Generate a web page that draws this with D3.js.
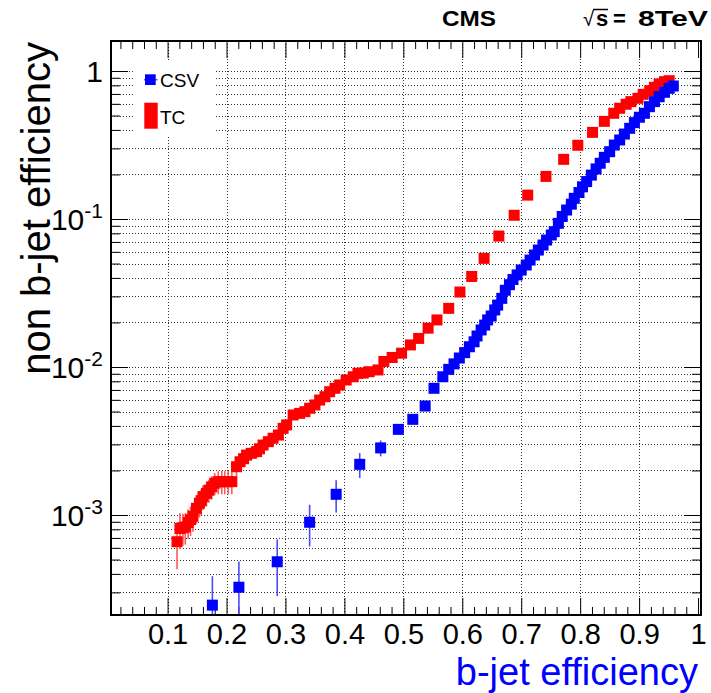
<!DOCTYPE html>
<html>
<head>
<meta charset="utf-8">
<script src="https://cdn.jsdelivr.net/npm/d3@7"></script>
<style>
body { margin: 0; background: #fff; }
svg { display: block; }
text { font-family: "Liberation Sans", Arial, Helvetica, sans-serif; }
</style>
</head>
<body>
<script>
// CSV tagger: b-jet efficiency, mistag rate, stat. error
var csvEff = [0.176, 0.221, 0.286, 0.341, 0.386, 0.426, 0.4615, 0.4915, 0.516, 0.537, 0.552, 0.567,
    0.577, 0.586, 0.595, 0.604, 0.612, 0.620, 0.625, 0.632, 0.638, 0.643, 0.649, 0.655, 0.660, 0.667,
    0.673, 0.680, 0.686, 0.693, 0.700, 0.7085, 0.715, 0.7225, 0.729, 0.737, 0.743, 0.751, 0.756, 0.763,
    0.7695, 0.777, 0.785, 0.790, 0.798, 0.804, 0.811, 0.819, 0.827, 0.834, 0.841, 0.850, 0.858, 0.867,
    0.875, 0.884, 0.892, 0.9005, 0.909, 0.9175, 0.926, 0.934, 0.943, 0.951, 0.958];
var csvMis = [2.46e-4, 3.25e-4, 4.83e-4, 8.93e-4, 1.38e-3, 2.20e-3, 2.84e-3, 3.79e-3, 4.43e-3, 5.45e-3, 7.18e-3, 8.59e-3,
    9.64e-3, 1.05e-2, 1.15e-2, 1.25e-2, 1.37e-2, 1.48e-2, 1.62e-2, 1.78e-2, 1.92e-2, 2.08e-2, 2.21e-2, 2.43e-2, 2.62e-2, 2.91e-2,
    3.30e-2, 3.60e-2, 3.90e-2, 4.19e-2, 4.52e-2, 4.89e-2, 5.28e-2, 5.71e-2, 6.17e-2, 6.67e-2, 7.21e-2, 7.80e-2, 8.21e-2, 9.35e-2,
    0.104, 0.115, 0.126, 0.138, 0.151, 0.165, 0.179, 0.198, 0.218, 0.238, 0.261, 0.285, 0.316, 0.342,
    0.375, 0.410, 0.448, 0.487, 0.518, 0.574, 0.621, 0.670, 0.718, 0.764, 0.792];
var csvErr = [1.4e-4, 1.6e-4, 2.0e-4, 2.8e-4, 3.4e-4, 4.2e-4, 3.5e-4, 2.0e-4, 2.0e-4, 2.0e-4, 2.0e-4, 1.5e-4];

// TC tagger
var tcEff = [0.116, 0.121, 0.126, 0.130, 0.135, 0.139, 0.143, 0.149, 0.154, 0.157, 0.160, 0.166, 0.170,
    0.175, 0.180, 0.186, 0.192, 0.197, 0.203, 0.209, 0.217, 0.223, 0.229, 0.234, 0.242, 0.251, 0.256,
    0.262, 0.271, 0.279, 0.288, 0.296, 0.302, 0.313, 0.324, 0.333, 0.341, 0.350, 0.358, 0.367, 0.375,
    0.384, 0.392, 0.403, 0.415, 0.423, 0.432, 0.442, 0.457, 0.467, 0.481, 0.497, 0.512, 0.526, 0.542,
    0.557, 0.577, 0.596, 0.616, 0.637, 0.662, 0.688, 0.711, 0.742, 0.772, 0.796, 0.821, 0.841, 0.857,
    0.867, 0.878, 0.886, 0.898, 0.907, 0.918, 0.926, 0.934, 0.943, 0.951];
var tcMis = [6.6e-4, 8.1e-4, 8.2e-4, 8.3e-4, 8.9e-4, 9.3e-4, 9.8e-4, 1.11e-3, 1.20e-3, 1.25e-3, 1.33e-3, 1.40e-3, 1.47e-3,
    1.55e-3, 1.64e-3, 1.68e-3, 1.68e-3, 1.68e-3, 1.68e-3, 1.68e-3, 2.12e-3, 2.29e-3, 2.40e-3, 2.54e-3, 2.61e-3, 2.68e-3, 2.80e-3,
    2.97e-3, 3.13e-3, 3.30e-3, 3.47e-3, 3.85e-3, 4.06e-3, 4.74e-3, 4.86e-3, 4.99e-3, 5.26e-3, 5.54e-3, 5.98e-3, 6.30e-3, 6.81e-3,
    7.18e-3, 7.56e-3, 8.17e-3, 8.59e-3, 9.06e-3, 9.10e-3, 9.29e-3, 9.55e-3, 1.09e-2, 1.16e-2, 1.24e-2, 1.41e-2, 1.56e-2, 1.83e-2,
    2.08e-2, 2.49e-2, 3.21e-2, 4.09e-2, 5.42e-2, 7.67e-2, 0.106, 0.145, 0.194, 0.253, 0.315, 0.385, 0.457, 0.518,
    0.560, 0.596, 0.621, 0.654, 0.696, 0.736, 0.776, 0.817, 0.847, 0.860];
var tcErr = [2.3e-4, 2.2e-4, 2.0e-4, 2.0e-4, 2.0e-4, 2.1e-4, 2.1e-4, 2.4e-4, 2.4e-4, 2.5e-4, 2.5e-4, 2.6e-4, 2.6e-4,
    2.8e-4, 2.8e-4, 3.0e-4, 3.0e-4, 3.0e-4, 3.0e-4, 3.0e-4, 3.0e-4, 3.0e-4, 2.8e-4, 2.8e-4, 2.6e-4, 2.6e-4, 2.5e-4,
    2.5e-4, 2.4e-4, 2.4e-4, 2.3e-4, 2.2e-4, 2.2e-4, 2.0e-4, 2.0e-4, 2.0e-4, 1.8e-4, 1.8e-4, 1.5e-4, 1.5e-4, 1.5e-4,
    1.5e-4, 1.2e-4, 1.2e-4, 1.0e-4, 1.0e-4];

var xTicks = [0.1, 0.2, 0.3, 0.4, 0.5, 0.6, 0.7, 0.8, 0.9, 1.0];
var xTickLabels = ["0.1", "0.2", "0.3", "0.4", "0.5", "0.6", "0.7", "0.8", "0.9", "1"];
var yTicks = [1e-3, 1e-2, 1e-1, 1];
var yTickBase = ["10", "10", "10", "1"];
var yTickExp = ["-3", "-2", "-1", ""];

var L = 111, R = 701, T = 41, B = 615;
var svg = d3.select("body").append("svg")
    .attr("width", 711)
    .attr("height", 693)
    .style("background-color", "white");

var x = d3.scaleLinear().domain([0.004, 1.005]).range([L, R]);
var y = d3.scaleLog().domain([2.11e-4, 1.595]).range([B, T]);

var xMinor = d3.range(1, 51).map(function (i) { return i * 0.02; })
    .filter(function (v) { return Math.round(v * 100) % 10 != 0; });
var yMinor = [];
[-4, -3, -2, -1, 0].forEach(function (e) {
    for (var k = 2; k <= 9; k++) {
        var v = k * Math.pow(10, e);
        if (v > 2.11e-4 && v < 1.595) yMinor.push(v);
    }
});

// grid
var grid = svg.append("g")
    .attr("stroke", "#000")
    .attr("stroke-width", 1)
    .attr("stroke-dasharray", "1,2")
    .attr("opacity", 0.8);
grid.selectAll("line.h").data(yTicks.concat(yMinor)).join("line")
    .attr("class", "h")
    .attr("x1", L).attr("x2", R)
    .attr("y1", function (d) { return Math.round(y(d)) + 0.5; })
    .attr("y2", function (d) { return Math.round(y(d)) + 0.5; });
grid.selectAll("line.v").data(xTicks.filter(function (d) { return d < 1; })).join("line")
    .attr("class", "v")
    .attr("y1", T).attr("y2", B)
    .attr("x1", function (d) { return Math.round(x(d)) + 0.5; })
    .attr("x2", function (d) { return Math.round(x(d)) + 0.5; });

// legend box hides the grid
svg.append("rect")
    .attr("x", 134).attr("y", 62)
    .attr("width", 82).attr("height", 73)
    .attr("fill", "white");

// axes, ticks on all four sides pointing in
function styleAxis(g) {
    g.select(".domain").remove();
    g.selectAll(".tick line").attr("stroke", "#000").attr("stroke-width", 1);
    g.attr("font-family", "'Liberation Sans', Arial, Helvetica, sans-serif").attr("font-size", 29);
}
svg.append("g").attr("transform", "translate(0," + B + ")")
    .call(d3.axisBottom(x).tickValues(xTicks).tickSize(-17).tickPadding(8)
        .tickFormat(function (d, i) { return xTickLabels[i]; }))
    .call(styleAxis);
svg.append("g").attr("transform", "translate(0," + B + ")")
    .call(d3.axisBottom(x).tickValues(xMinor).tickSize(-8).tickFormat(""))
    .call(styleAxis);
svg.append("g").attr("transform", "translate(0," + T + ")")
    .call(d3.axisTop(x).tickValues(xTicks).tickSize(-17).tickFormat(""))
    .call(styleAxis);
svg.append("g").attr("transform", "translate(0," + T + ")")
    .call(d3.axisTop(x).tickValues(xMinor).tickSize(-8).tickFormat(""))
    .call(styleAxis);

var gy = svg.append("g").attr("transform", "translate(" + L + ",0)")
    .call(d3.axisLeft(y).tickValues(yTicks).tickSize(-17).tickPadding(8).tickFormat(""))
    .call(styleAxis);
gy.selectAll(".tick text").each(function (d, i) {
    var t = d3.select(this).attr("dy", "0.36em").attr("font-size", 30);
    t.append("tspan").text(yTickBase[i]);
    if (yTickExp[i]) t.append("tspan").attr("font-size", 21).attr("dy", -12).text(yTickExp[i]);
});
svg.append("g").attr("transform", "translate(" + L + ",0)")
    .call(d3.axisLeft(y).tickValues(yMinor).tickSize(-9).tickFormat(""))
    .call(styleAxis);
svg.append("g").attr("transform", "translate(" + R + ",0)")
    .call(d3.axisRight(y).tickValues(yTicks).tickSize(-17).tickFormat(""))
    .call(styleAxis);
svg.append("g").attr("transform", "translate(" + R + ",0)")
    .call(d3.axisRight(y).tickValues(yMinor).tickSize(-9).tickFormat(""))
    .call(styleAxis);

// frame
svg.append("rect")
    .attr("x", L).attr("y", T)
    .attr("width", R - L).attr("height", B - T)
    .attr("fill", "none")
    .attr("stroke", "#000")
    .attr("stroke-width", 2);

// data
svg.append("clipPath").attr("id", "plotclip")
    .append("rect").attr("x", L + 1).attr("y", T + 1).attr("width", R - L - 2).attr("height", B - T - 2);
var plot = svg.append("g").attr("clip-path", "url(#plotclip)");

function drawSeries(effs, mis, errs, col, barCol) {
    var pts = effs.map(function (e, i) { return { e: e, m: mis[i], s: errs[i] || 0 }; });
    var g = plot.append("g");
    g.selectAll("line").data(pts.filter(function (p) { return p.s > 0; })).join("line")
        .attr("x1", function (p) { return x(p.e); })
        .attr("x2", function (p) { return x(p.e); })
        .attr("y1", function (p) { return y(p.m + p.s); })
        .attr("y2", function (p) { return y(Math.max(p.m - p.s, 1e-5)); })
        .attr("stroke", barCol)
        .attr("stroke-width", 1.6);
    g.selectAll("rect").data(pts).join("rect")
        .attr("x", function (p) { return x(p.e) - 5.5; })
        .attr("y", function (p) { return y(p.m) - 5.5; })
        .attr("width", 11)
        .attr("height", 11)
        .attr("fill", col);
}
drawSeries(tcEff, tcMis, tcErr, "#ff0000", "#ff5a5a");
drawSeries(csvEff, csvMis, csvErr, "#0000ff", "#4a4aff");

// legend
svg.append("line")
    .attr("x1", 144).attr("x2", 157.5).attr("y1", 79.7).attr("y2", 79.7)
    .attr("stroke", "#4a4aff").attr("stroke-width", 1.5);
svg.append("rect")
    .attr("x", 145).attr("y", 74.3).attr("width", 10.7).attr("height", 10.7)
    .attr("fill", "#0000ff");
svg.append("text")
    .attr("x", 160).attr("y", 87)
    .attr("font-size", 19)
    .text("CSV");
svg.append("rect")
    .attr("x", 144.3).attr("y", 102.7).attr("width", 13.4).attr("height", 26)
    .attr("fill", "#ff0000");
svg.append("text")
    .attr("x", 160).attr("y", 123.5)
    .attr("font-size", 19)
    .text("TC");

// header
svg.append("text")
    .attr("x", 442).attr("y", 26)
    .attr("font-size", 22).attr("font-weight", "bold")
    .attr("textLength", 54).attr("lengthAdjust", "spacingAndGlyphs")
    .text("CMS");
var energy = svg.append("text")
    .attr("y", 26)
    .attr("font-size", 22).attr("font-weight", "bold");
energy.append("tspan").attr("x", 583).attr("font-size", 20).attr("font-weight", "normal").text("\u221A");
energy.append("tspan").attr("x", 596).text("s");
energy.append("tspan").attr("x", 613).text("=");
energy.append("tspan").attr("x", 638)
    .attr("textLength", 70).attr("lengthAdjust", "spacingAndGlyphs")
    .text("8TeV");
svg.append("line")
    .attr("x1", 593).attr("x2", 608).attr("y1", 9.5).attr("y2", 9.5)
    .attr("stroke", "#000").attr("stroke-width", 1.5);

// axis titles
svg.append("text")
    .attr("x", 698).attr("y", 685)
    .attr("text-anchor", "end")
    .attr("font-size", 38)
    .attr("fill", "#0000ff")
    .text("b-jet efficiency");
svg.append("text")
    .attr("transform", "translate(50,42) rotate(-90)")
    .attr("text-anchor", "end")
    .attr("font-size", 40)
    .text("non b-jet efficiency");
</script>
</body>
</html>
